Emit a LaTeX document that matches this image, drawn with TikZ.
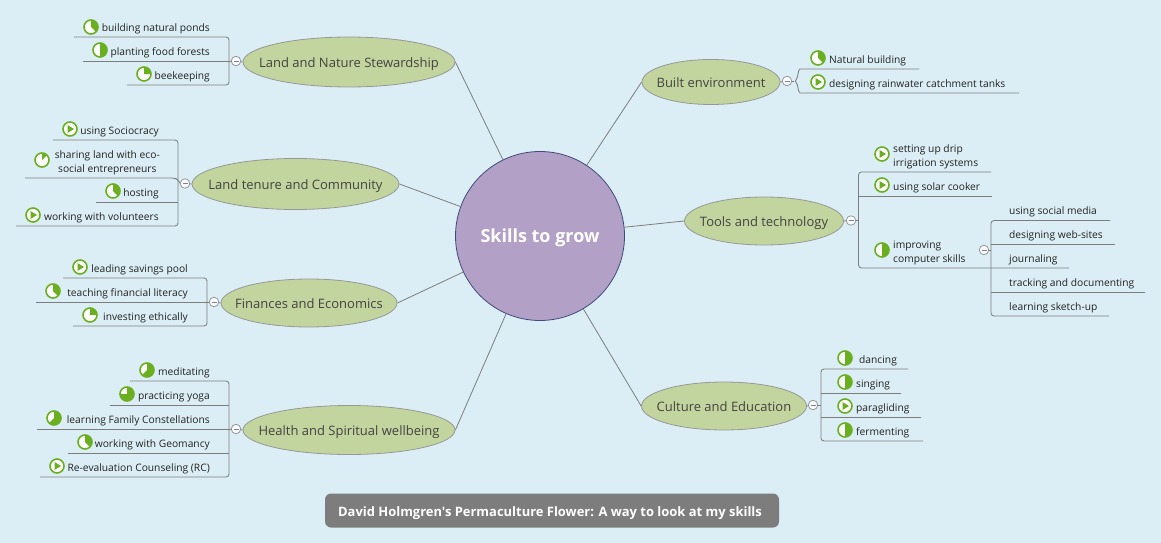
\documentclass[tikz,border=0pt]{standalone}
\usepackage{fontspec}
\usetikzlibrary{shapes.geometric}
\setmainfont{Open Sans}
\newfontfamily\footfont{Open Sans}
\definecolor{bgc}{HTML}{DCEEF5}
\definecolor{linec}{HTML}{7D7D7D}
\definecolor{greenc}{HTML}{6AAF1F}
\definecolor{olive}{HTML}{C3D59E}
\definecolor{purp}{HTML}{B3A0C6}
\definecolor{purpb}{HTML}{3F4A7C}
\definecolor{txt}{HTML}{222222}
\tikzset{
  topic/.style={ellipse,draw=linec!80,fill=olive,line width=.8pt,inner sep=0pt,text=txt!85,font=\fontsize{13}{15}\selectfont},
  leaf/.style={inner sep=0pt,text=txt,font=\fontsize{10.25}{14}\selectfont,text height=8pt,text depth=2.5pt,yshift=-.8pt},
  leaftwo/.style={inner sep=0pt,text=txt,font=\fontsize{10.25}{14}\selectfont,align=center},
  conn/.style={draw=linec,line width=.8pt},
  coll/.style={circle,draw=linec!80,fill=white!85!bgc,line width=.8pt,minimum size=9.5pt,inner sep=0pt},
  tree/.style={draw=linec,line width=.85pt,rounded corners=3pt},
}
\newcommand{\tlabel}[1]{\raisebox{-5.3pt}[0pt][0pt]{\makebox[0pt]{#1}}}
% minus collapse button
\newcommand{\collbtn}[3]{\node[coll] (#1) at (#2,#3) {};\draw[purpb!70,line width=.7pt] (#2-2.5,#3) -- (#2+2.5,#3);}
% progress icon: name,x,y,fraction in degrees
\newcommand{\progicon}[4]{%
  \node[circle,draw=greenc,fill=white,line width=1.6pt,minimum size=14pt,inner sep=0pt] (#1) at (#2,#3) {};
  \fill[greenc] (#2,#3) -- (#2,#3-7) arc[start angle=90,delta angle=-#4,x radius=7,y radius=-7] -- cycle;}
\newcommand{\playicon}[3]{%
  \node[circle,draw=greenc,fill=white,line width=1.6pt,minimum size=14pt,inner sep=0pt] (#1) at (#2,#3) {};
  \fill[greenc] (#2-2.5,#3-4) -- (#2+4,#3) -- (#2-2.5,#3+4) -- cycle;}
\begin{document}
\begin{tikzpicture}[x=1pt,y=-1pt]
\useasboundingbox[fill=bgc] (0,0) rectangle (1161,543);
% centre
\node[circle,draw=purpb,fill=purp,line width=.8pt,minimum size=169pt,inner sep=0pt,text=white,font=\fontsize{18}{20}\selectfont\bfseries] (c) at (540,236) {\raisebox{-6.8pt}[0pt][0pt]{\makebox[0pt]{Skills to grow}}};
% topics
\node[topic,minimum width=212pt,minimum height=50pt] (t1) at (349,62) {\tlabel{Land and Nature Stewardship}};
\node[topic,minimum width=207pt,minimum height=51pt] (t2) at (295.5,184) {\tlabel{Land tenure and Community}};
\node[topic,minimum width=176pt,minimum height=48pt] (t3) at (309,303) {\tlabel{Finances and Economics}};
\node[topic,minimum width=212pt,minimum height=49pt] (t4) at (349,430) {\tlabel{Health and Spiritual wellbeing}};
\node[topic,minimum width=138pt,minimum height=45pt] (t5) at (711,82) {\tlabel{Built environment}};
\node[topic,minimum width=159pt,minimum height=48pt] (t6) at (764,221) {\tlabel{Tools and technology}};
\node[topic,minimum width=165pt,minimum height=48pt] (t7) at (724,406) {\tlabel{Culture and Education}};
\foreach \t/\a in {t1/east,t2/east,t3/east,t4/east,t5/west,t6/west,t7/west}{\draw[conn] (c) -- (\t.\a);}
% --- Land and Nature
\draw[tree] (74,37) -| (229,85) -- (127,85);
\draw[tree] (83,61) -- (232,61);
\collbtn{b1}{236}{61}
\draw[conn] (b1) -- (t1.west);
\node[leaf,anchor=east] (l11) at (210,28) {building natural ponds};
\node[leaf,anchor=east] (l12) at (210,51.5) {planting food forests};
\node[leaf,anchor=east] (l13) at (210,75.5) {beekeeping};
\progicon{i11}{91}{27}{135}
\progicon{i12}{100}{50}{180}
\progicon{i13}{144}{74}{90}
% --- Land tenure
\draw[tree] (53,140) -| (178,226) -- (16,226);
\draw[tree] (25,178) -- (175,178) -- (178,180) -- (180.5,183.5);
\draw[tree] (96,202) -- (178,202);
\collbtn{b2}{185}{183.5}
\draw[conn] (b2) -- (t2.west);
\node[leaf,anchor=east] (l21) at (159,130.5) {using Sociocracy};
\node[leaftwo,anchor=east] (l22) at (160,162.5) {sharing land with eco-\\social entrepreneurs};
\node[leaf,anchor=east] (l23) at (159,192.5) {hosting};
\node[leaf,anchor=east] (l24) at (159,216.5) {working with volunteers};
\playicon{i21}{70}{129}
\progicon{i22}{42}{160}{45}
\progicon{i23}{113}{191}{135}
\playicon{i24}{33}{215}
% --- Finances
\draw[tree] (63,278) -| (207,326) -- (73,326);
\draw[tree] (36,302) -- (210,302);
\collbtn{b3}{214}{302}
\draw[conn] (b3) -- (t3.west);
\node[leaf,anchor=east] (l31) at (188,268.5) {leading savings pool};
\node[leaf,anchor=east] (l32) at (188,292.5) {teaching financial literacy};
\node[leaf,anchor=east] (l33) at (188,316.5) {investing ethically};
\playicon{i31}{80}{267}
\progicon{i32}{53}{291}{135}
\progicon{i33}{90}{315}{90}
% --- Health
\draw[tree] (130,381) -| (229,477) -- (40,477);
\draw[tree] (110,405) -- (229,405);
\draw[tree] (37,429) -- (232,429);
\draw[tree] (68,453) -- (229,453);
\collbtn{b4}{236}{429}
\draw[conn] (b4) -- (t4.west);
\node[leaf,anchor=east] (l41) at (210,372) {meditating};
\node[leaf,anchor=east] (l42) at (210,396) {practicing yoga};
\node[leaf,anchor=east] (l43) at (210,420) {learning Family Constellations};
\node[leaf,anchor=east] (l44) at (210,444) {working with Geomancy};
\node[leaf,anchor=east] (l45) at (210,468) {Re-evaluation Counseling (RC)};
\progicon{i41}{147}{370}{225}
\progicon{i42}{127}{394}{270}
\progicon{i43}{54}{418}{225}
\progicon{i44}{85}{442}{135}
\playicon{i45}{57}{466}
% --- Built
\draw[tree] (919,69) -- (803,69) .. controls (798,69) and (798,78) .. (794,81) .. controls (798,84) and (798,93) .. (803,93) -- (1019,93);
\collbtn{b5}{787}{81}
\draw[conn] (b5) -- (t5.east);
\draw[conn] (b5) -- (794,81);
\node[leaf,anchor=west] (l51) at (829,60) {Natural building};
\node[leaf,anchor=west] (l52) at (829,84) {designing rainwater catchment tanks};
\progicon{i51}{818}{58}{135}
\playicon{i52}{818}{82}
% --- Tools
\draw[tree] (991,172) -| (858.5,268) -- (1069,268);
\draw[tree] (992,196) -- (858.5,196);
\collbtn{b6}{851}{220.5}
\draw[conn] (b6) -- (t6.east);
\draw[conn] (b6) -- (858.5,220.5);
\node[leaftwo,anchor=north west,align=left] (l61) at (893,144.5) {setting up drip\\irrigation systems};
\node[leaf,anchor=west] (l62) at (893,187) {using solar cooker};
\node[leaftwo,anchor=north west,align=left] (l63) at (893,240.5) {improving\\computer skills};
\playicon{i61}{882}{154}
\playicon{i62}{882}{185}
\progicon{i63}{882}{250}{180}
% --- computer skills
\draw[tree] (1110,220.5) -| (991,316) -- (1109,316);
\draw[tree] (1115,244.5) -- (991,244.5);
\draw[tree] (1145,292) -- (991,292);
\collbtn{b7}{984}{250}
\draw[conn] (b7) -- (991,250);
\node[leaf,anchor=west] (l71) at (1009,210.7) {using social media};
\node[leaf,anchor=west] (l72) at (1009,234.7) {designing web-sites};
\node[leaf,anchor=west] (l73) at (1009,258.7) {journaling};
\node[leaf,anchor=west] (l74) at (1009,282.7) {tracking and documenting};
\node[leaf,anchor=west] (l75) at (1009,306.7) {learning sketch-up};
% --- Culture
\draw[tree] (908,369) -| (821,441) -- (923,441);
\draw[tree] (901,393) -- (821,393);
\draw[tree] (921,417) -- (821,417);
\collbtn{b8}{813}{405}
\draw[conn] (b8) -- (821,405);
\draw[conn] (b8) -- (t7.east);
\node[leaf,anchor=west] (l81) at (859,360) {dancing};
\node[leaf,anchor=west] (l82) at (856,384) {singing};
\node[leaf,anchor=west] (l83) at (856,408) {paragliding};
\node[leaf,anchor=west] (l84) at (856,432) {fermenting};
\progicon{i81}{845}{358}{180}
\progicon{i82}{845}{382}{180}
\playicon{i83}{845}{406}
\progicon{i84}{845}{430}{180}
% footer
\node[fill=linec,rounded corners=6pt,minimum width=454pt,minimum height=34pt,inner sep=0pt,text=white,font=\footfont\fontsize{12.95}{14}\selectfont\bfseries] (foot) at (552,510.5) {\raisebox{-5.5pt}[0pt][0pt]{\makebox[0pt]{David Holmgren's Permaculture Flower: A way to look at my skills\hspace{4pt}}}};
\end{tikzpicture}
\end{document}
